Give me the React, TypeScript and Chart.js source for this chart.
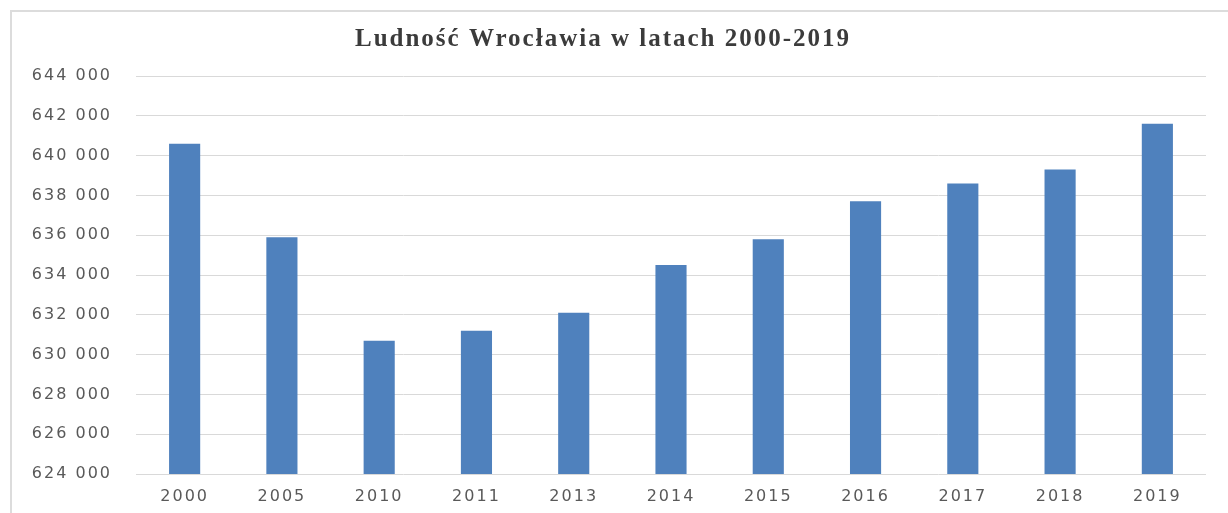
import React, { useEffect, useRef } from "react";
import { Chart, registerables } from "chart.js";

Chart.register(...registerables);

const years = ["2000", "2005", "2010", "2011", "2013", "2014", "2015", "2016", "2017", "2018", "2019"];
const population = [640600, 635900, 630700, 631200, 632100, 634500, 635800, 637700, 638600, 639300, 641600];
const yMin = 624000;
const yMax = 644000;
const yStep = 2000;
const titleText = "Ludność Wrocławia w latach 2000-2019";

const fmt = (v: number) => {
  const s = Math.round(v).toString();
  return s.replace(/\B(?=(\d{3})+(?!\d))/g, " ");
};

const spacingPlugin = {
  id: "spacing",
  beforeUpdate(chart: any) {
    chart.ctx.letterSpacing = "2px";
  },
  beforeDraw(chart: any) {
    chart.ctx.letterSpacing = "2px";
  },
};

export default function App() {
  const ref = useRef<HTMLCanvasElement | null>(null);
  useEffect(() => {
    if (!ref.current) return;
    const chart = new Chart(ref.current, {
      type: "bar",
      data: {
        labels: years,
        datasets: [
          {
            data: population,
            backgroundColor: "#4f81bd",
            borderWidth: 0,
            categoryPercentage: 1,
            barPercentage: 0.32,
          },
        ],
      },
      plugins: [spacingPlugin],
      options: {
        animation: false,
        responsive: false,
        layout: { padding: { left: 0, right: 22, top: 0, bottom: 0 } },
        plugins: {
          legend: { display: false },
          tooltip: { enabled: false },
          title: {
            display: true,
            text: titleText,
            color: "#3b3b3b",
            font: { family: "'Liberation Serif', 'Times New Roman', serif", size: 25, weight: "bold" },
            padding: { top: 25, bottom: 21 },
          },
        },
        scales: {
          x: {
            grid: { display: false, drawTicks: false },
            border: { display: false },
            ticks: {
              color: "#595959",
              font: { family: "'DejaVu Sans', sans-serif", size: 16 },
              padding: 13,
              maxRotation: 0,
            },
            afterFit(scale: any) {
              scale.height = 39;
            },
          },
          y: {
            min: yMin,
            max: yMax,
            grid: { color: "#d9d9d9", lineWidth: 1, drawTicks: false },
            border: { display: false },
            ticks: {
              stepSize: yStep,
              color: "#595959",
              font: { family: "'DejaVu Sans', sans-serif", size: 16 },
              padding: 24,
              callback: (v: any) => fmt(Number(v)),
            },
            afterFit(scale: any) {
              scale.width = 136;
            },
          },
        },
      },
    } as any);
    return () => chart.destroy();
  }, []);

  return (
    <div style={{ position: "fixed", left: 0, top: 0, width: 1228, height: 513, background: "#ffffff" }}>
      <div
        style={{
          position: "absolute",
          left: 10,
          top: 10,
          width: 1228,
          height: 513,
          borderLeft: "2px solid #dcdcdc",
          borderTop: "2px solid #dcdcdc",
        }}
      />
      <canvas ref={ref} width={1228} height={513} style={{ position: "absolute", left: 0, top: 0 }} />
    </div>
  );
}
